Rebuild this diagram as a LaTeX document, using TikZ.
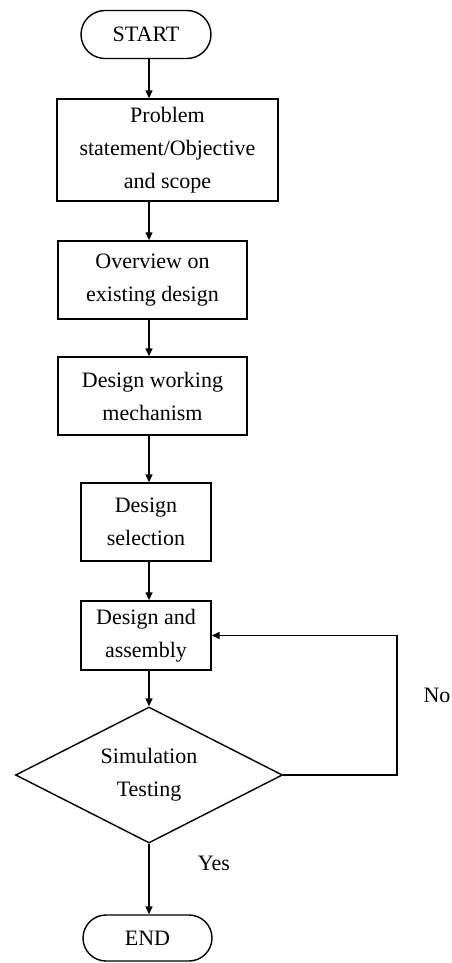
\documentclass[tikz,border=0pt]{standalone}
\usepackage{fontspec}
\setmainfont{Liberation Serif}
\usepackage{tikz}
\usetikzlibrary{shapes.geometric, shapes.misc, arrows.meta}

\begin{document}
\begin{tikzpicture}[x=0.5pt, y=-0.5pt, line width=0.7pt,
    every node/.style={font=\fontsize{11}{16.5}\selectfont, align=center, inner sep=0pt},
    term/.style={draw, rounded rectangle, minimum width=65pt, minimum height=24pt},
    box/.style={draw, rectangle},
    cond/.style={draw, diamond, aspect=1.96, minimum width=133.5pt, minimum height=68pt},
    flow/.style={-{Triangle[length=4pt, width=3.5pt]}}]
  \useasboundingbox (0, 0) rectangle (451, 963);
  \node[term] (start) at (146, 34.5) {START};
  \node[box, minimum width=110.5pt, minimum height=51pt] (prob) at (167.5, 150) {Problem\\statement/Objective\\and scope};
  \node[box, minimum width=94.5pt, minimum height=39pt] (over) at (152.5, 280) {Overview on\\existing design};
  \node[box, minimum width=94.5pt, minimum height=39pt] (mech) at (152.5, 396) {Design working\\mechanism};
  \node[box, minimum width=65pt, minimum height=39pt] (sel) at (146, 522) {Design\\selection};
  \node[box, minimum width=65pt, minimum height=34.5pt] (asm) at (146, 635.5) {Design and\\assembly};
  \node[cond] (sim) at (149, 775) {Simulation\\Testing};
  \node[term, minimum width=64.5pt, minimum height=23pt] (end) at (147.5, 938) {END};
  \node (no) at (437, 695) {No};
  \node (yes) at (214, 863) {Yes};
  \coordinate (spine) at (149, 0);
  \coordinate (loop) at (397, 0);
  % main line
  \draw[flow] (spine |- start.south) -- (spine |- prob.north);
  \draw[flow] (spine |- prob.south) -- (spine |- over.north);
  \draw[flow] (spine |- over.south) -- (spine |- mech.north);
  \draw[flow] (spine |- mech.south) -- (spine |- sel.north);
  \draw[flow] (spine |- sel.south) -- (spine |- asm.north);
  \draw[flow] (spine |- asm.south) -- (sim.north);
  \draw[flow] (sim.south) -- (sim.south |- end.north);
  % back to assembly
  \draw[flow] (sim.east) -- (sim.east -| loop) |- (asm.east);
\end{tikzpicture}
\end{document}
